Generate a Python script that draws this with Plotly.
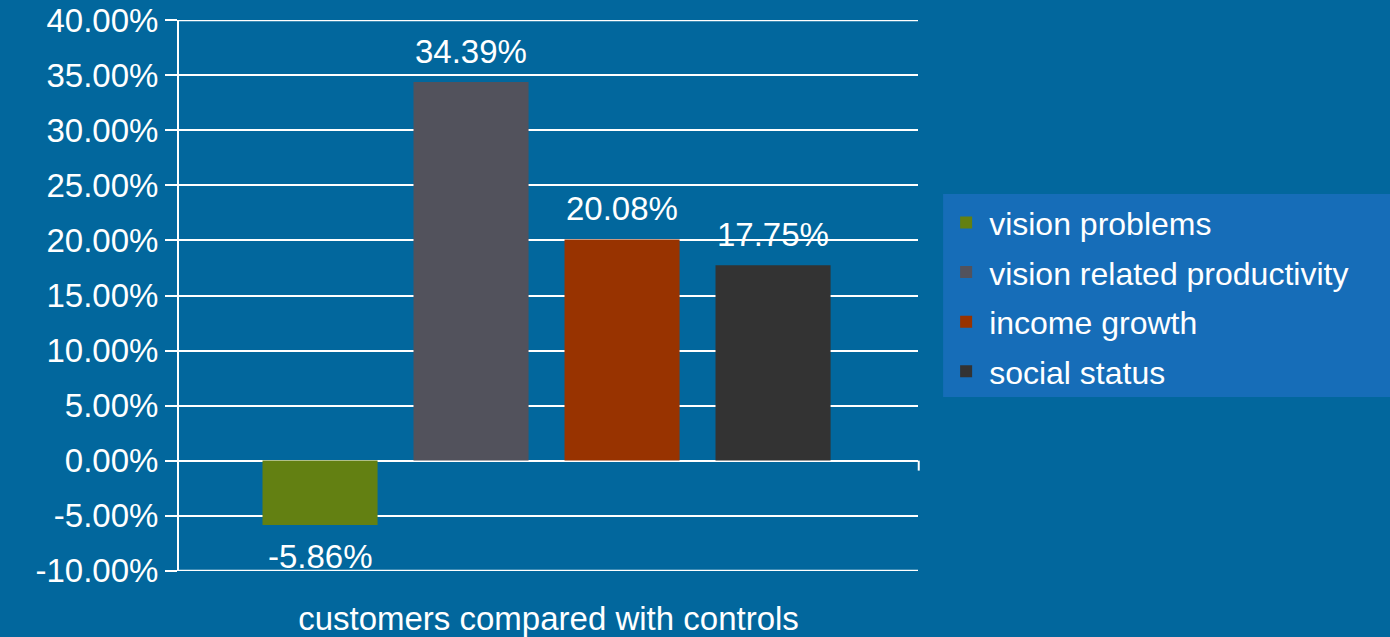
import plotly.graph_objects as go

category_label = "customers compared with controls"
series = ["vision problems", "vision related productivity", "income growth", "social status"]
values = [-0.0586, 0.3439, 0.2008, 0.1775]
colors = ["#638012", "#52525C", "#983300", "#333333"]
y_ticks = [-0.10, -0.05, 0.0, 0.05, 0.10, 0.15, 0.20, 0.25, 0.30, 0.35, 0.40]
y_tick_text = ["-10.00%", "-5.00%", "0.00%", "5.00%", "10.00%", "15.00%",
               "20.00%", "25.00%", "30.00%", "35.00%", "40.00%"]

BG = "#02679D"
LEGEND_BG = "#166DB8"
FONT = "Liberation Sans, Arial, sans-serif"

fig = go.Figure()
for i, (name, v, c) in enumerate(zip(series, values, colors)):
    fig.add_trace(go.Bar(
        name=name, x=[i], y=[v], width=0.762,
        marker=dict(color=c, line=dict(width=0)),
        legendgroup=name,
    ))
    fig.add_annotation(
        x=i, y=v, xref="x", yref="y", text=f"{v:.2%}", showarrow=False,
        yshift=31 if v >= 0 else -31, yanchor="middle",
        font=dict(size=33, color="white", family=FONT),
    )

# gridlines at the two ends of the value range (plotly omits them at the edges)
for yv in (y_ticks[0], y_ticks[-1]):
    fig.add_shape(type="line", xref="paper", yref="y", x0=0, x1=1, y0=yv, y1=yv,
                  line=dict(color="white", width=2), layer="below")

# small tick at the right end of the zero line
fig.add_shape(type="line", xref="paper", yref="y", x0=1.001, x1=1.001, y0=0, y1=-10,
              ysizemode="pixel", yanchor=0, line=dict(color="white", width=2))

# legend panel running off the right edge
fig.add_shape(type="rect", xref="paper", yref="paper", x0=1.034, x1=1.7,
              y0=0.316, y1=0.684, fillcolor=LEGEND_BG, line=dict(width=0), layer="below")

fig.update_layout(
    width=1390, height=637,
    paper_bgcolor=BG, plot_bgcolor=BG,
    margin=dict(l=179, r=472, t=20, b=66, autoexpand=False),
    barmode="overlay",
    font=dict(family=FONT, color="white", size=33),
    showlegend=True,
    legend=dict(
        x=1.034, xanchor="left", y=0.682, yanchor="top",
        bgcolor="rgba(0,0,0,0)", font=dict(size=32, color="white", family=FONT),
        itemwidth=36, tracegroupgap=5, traceorder="grouped",
        borderwidth=0,
    ),
    xaxis=dict(
        range=[-0.934, 3.96], showgrid=False, showline=False, zeroline=False,
        showticklabels=False, ticks="", automargin=False, fixedrange=True,
        title=dict(text=category_label, standoff=38,
                   font=dict(size=33, color="white", family=FONT)),
    ),
    yaxis=dict(
        range=[-0.1003, 0.4003], tickvals=y_ticks, ticktext=y_tick_text,
        showgrid=True, gridcolor="white", gridwidth=2,
        zeroline=True, zerolinecolor="white", zerolinewidth=2,
        showline=True, linecolor="white", linewidth=2,
        ticks="outside", ticklen=12, tickcolor="white", tickwidth=2,
        tickfont=dict(size=33, color="white", family=FONT),
        automargin=False,
    ),
)

fig.write_html("out.html")
